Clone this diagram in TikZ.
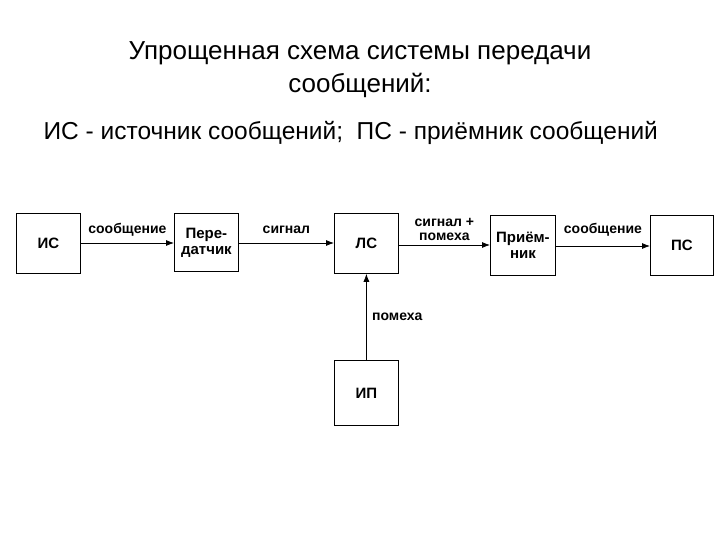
\documentclass[tikz,border=0pt]{standalone}
\usepackage{fontspec}
\setmainfont{Liberation Sans}
\usetikzlibrary{arrows.meta}
\begin{document}
\begin{tikzpicture}[x=1pt,y=-1pt,
  blk/.style={draw,line width=0.8pt,anchor=north west,inner sep=0pt,font=\fontsize{15}{16}\selectfont\bfseries,align=center},
  lbl/.style={font=\fontsize{14}{14}\selectfont\bfseries,align=center},
  arr/.style={-{Latex[length=8pt,width=6pt]},line width=0.8pt}]
\useasboundingbox (0,0) rectangle (720,540);
\node[font=\fontsize{26}{33}\selectfont,align=center] (title) at (360,70) {Упрощенная схема системы передачи\\сообщений:};
\node[font=\fontsize{24.5}{28}\selectfont,anchor=west] (sub) at (40,133) {ИС - источник сообщений;\ \ ПС - приёмник сообщений};
\node[blk,minimum width=64,minimum height=60] (is) at (16,213) {ИС};
\node[blk,minimum width=64,minimum height=58] (tr) at (174,213) {Пере-\\датчик};
\node[blk,minimum width=64,minimum height=60] (ls) at (334,213) {ЛС};
\node[blk,minimum width=65,minimum height=60] (rc) at (490,215) {Приём-\\ник};
\node[blk,minimum width=63,minimum height=60] (ps) at (650,215) {ПС};
\node[blk,minimum width=64,minimum height=65] (ip) at (334,360) {ИП};
\draw[arr] (is.east|-0,243) -- (tr.west|-0,243) node[lbl,midway,above=3pt] (l1) {сообщение};
\draw[arr] (tr.east|-0,243) -- (ls.west|-0,243) node[lbl,midway,above=6pt] (l2) {сигнал};
\draw[arr] (ls.east|-0,245) -- (rc.west|-0,245) node[lbl,midway,above=1pt] (l3) {сигнал +\\помеха};
\draw[arr] (rc.east|-0,246) -- (ps.west|-0,246) node[lbl,midway,above=6pt] (l4) {сообщение};
\draw[arr] (ip.north) -- (ls.south) node[lbl,pos=0.5,right=2pt] (l5) {помеха};
\end{tikzpicture}
\end{document}
